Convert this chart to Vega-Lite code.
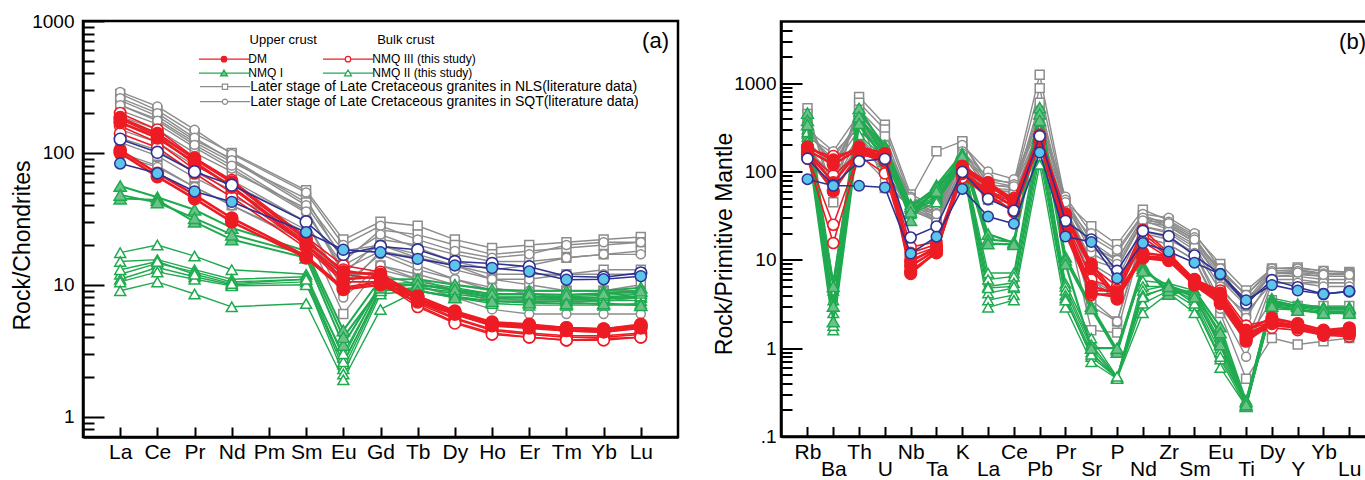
{
"$schema":"https://vega.github.io/schema/vega-lite/v6.json",
"padding":{"left":9,"top":10,"right":0,"bottom":0},
"background":"white",
"bounds":"flush",
"spacing":103,
"center":true,
"config":{
"font":"Liberation Sans",
"view":{"stroke":"black","strokeWidth":2.5},
"axis":{"domainColor":"black","domainWidth":2.5,"tickColor":"black","tickWidth":2,"labelColor":"black","titleColor":"black","grid":false,"titleFontWeight":"normal","labelFont":"Liberation Sans","titleFont":"Liberation Sans"},
"legend":{"labelFont":"Liberation Sans","titleFont":"Liberation Sans","labelColor":"black","titleColor":"black"},
"title":{"font":"Liberation Sans","fontWeight":"normal","color":"black"}
},
"datasets":{
"a":[
{"s":"N1","e":"La","v":280},{"s":"N1","e":"Ce","v":210},{"s":"N1","e":"Pr","v":140},{"s":"N1","e":"Nd","v":100},{"s":"N1","e":"Sm","v":52},{"s":"N1","e":"Eu","v":22},{"s":"N1","e":"Gd","v":30},{"s":"N1","e":"Tb","v":28},{"s":"N1","e":"Dy","v":22},{"s":"N1","e":"Ho","v":19},{"s":"N1","e":"Er","v":20},{"s":"N1","e":"Tm","v":21},{"s":"N1","e":"Yb","v":22},{"s":"N1","e":"Lu","v":23},
{"s":"N2","e":"La","v":230},{"s":"N2","e":"Ce","v":180},{"s":"N2","e":"Pr","v":120},{"s":"N2","e":"Nd","v":85},{"s":"N2","e":"Sm","v":45},{"s":"N2","e":"Eu","v":15},{"s":"N2","e":"Gd","v":26},{"s":"N2","e":"Tb","v":24},{"s":"N2","e":"Dy","v":20},{"s":"N2","e":"Ho","v":17},{"s":"N2","e":"Er","v":18},{"s":"N2","e":"Tm","v":19},{"s":"N2","e":"Yb","v":20},{"s":"N2","e":"Lu","v":21},
{"s":"N3","e":"La","v":190},{"s":"N3","e":"Ce","v":150},{"s":"N3","e":"Pr","v":100},{"s":"N3","e":"Nd","v":72},{"s":"N3","e":"Sm","v":38},{"s":"N3","e":"Eu","v":12},{"s":"N3","e":"Gd","v":22},{"s":"N3","e":"Tb","v":20},{"s":"N3","e":"Dy","v":17},{"s":"N3","e":"Ho","v":15},{"s":"N3","e":"Er","v":15},{"s":"N3","e":"Tm","v":16},{"s":"N3","e":"Yb","v":17},{"s":"N3","e":"Lu","v":18},
{"s":"N4","e":"La","v":150},{"s":"N4","e":"Ce","v":120},{"s":"N4","e":"Pr","v":80},{"s":"N4","e":"Nd","v":58},{"s":"N4","e":"Sm","v":30},{"s":"N4","e":"Eu","v":9},{"s":"N4","e":"Gd","v":18},{"s":"N4","e":"Tb","v":16},{"s":"N4","e":"Dy","v":14},{"s":"N4","e":"Ho","v":12},{"s":"N4","e":"Er","v":12},{"s":"N4","e":"Tm","v":12},{"s":"N4","e":"Yb","v":13},{"s":"N4","e":"Lu","v":13},
{"s":"N5","e":"La","v":120},{"s":"N5","e":"Ce","v":95},{"s":"N5","e":"Pr","v":65},{"s":"N5","e":"Nd","v":47},{"s":"N5","e":"Sm","v":25},{"s":"N5","e":"Eu","v":6},{"s":"N5","e":"Gd","v":14},{"s":"N5","e":"Tb","v":12},{"s":"N5","e":"Dy","v":10},{"s":"N5","e":"Ho","v":9},{"s":"N5","e":"Er","v":9},{"s":"N5","e":"Tm","v":9},{"s":"N5","e":"Yb","v":9},{"s":"N5","e":"Lu","v":10},
{"s":"N6","e":"La","v":100},{"s":"N6","e":"Ce","v":80},{"s":"N6","e":"Pr","v":55},{"s":"N6","e":"Nd","v":40},{"s":"N6","e":"Sm","v":22},{"s":"N6","e":"Eu","v":11},{"s":"N6","e":"Gd","v":13},{"s":"N6","e":"Tb","v":11},{"s":"N6","e":"Dy","v":9},{"s":"N6","e":"Ho","v":8},{"s":"N6","e":"Er","v":7.5},{"s":"N6","e":"Tm","v":7.5},{"s":"N6","e":"Yb","v":7.5},{"s":"N6","e":"Lu","v":8},
{"s":"N7","e":"La","v":250},{"s":"N7","e":"Ce","v":190},{"s":"N7","e":"Pr","v":125},{"s":"N7","e":"Nd","v":90},{"s":"N7","e":"Sm","v":42},{"s":"N7","e":"Eu","v":18},{"s":"N7","e":"Gd","v":20},{"s":"N7","e":"Tb","v":17},{"s":"N7","e":"Dy","v":14},{"s":"N7","e":"Ho","v":11},{"s":"N7","e":"Er","v":10},{"s":"N7","e":"Tm","v":9},{"s":"N7","e":"Yb","v":9},{"s":"N7","e":"Lu","v":9},
{"s":"Q1","e":"La","v":290},{"s":"Q1","e":"Ce","v":225},{"s":"Q1","e":"Pr","v":150},{"s":"Q1","e":"Nd","v":98},{"s":"Q1","e":"Sm","v":50},{"s":"Q1","e":"Eu","v":20},{"s":"Q1","e":"Gd","v":28},{"s":"Q1","e":"Tb","v":22},{"s":"Q1","e":"Dy","v":18},{"s":"Q1","e":"Ho","v":16},{"s":"Q1","e":"Er","v":17},{"s":"Q1","e":"Tm","v":20},{"s":"Q1","e":"Yb","v":21},{"s":"Q1","e":"Lu","v":21},
{"s":"Q2","e":"La","v":260},{"s":"Q2","e":"Ce","v":200},{"s":"Q2","e":"Pr","v":130},{"s":"Q2","e":"Nd","v":88},{"s":"Q2","e":"Sm","v":40},{"s":"Q2","e":"Eu","v":16},{"s":"Q2","e":"Gd","v":24},{"s":"Q2","e":"Tb","v":19},{"s":"Q2","e":"Dy","v":15},{"s":"Q2","e":"Ho","v":13},{"s":"Q2","e":"Er","v":14},{"s":"Q2","e":"Tm","v":16},{"s":"Q2","e":"Yb","v":17},{"s":"Q2","e":"Lu","v":17},
{"s":"Q3","e":"La","v":210},{"s":"Q3","e":"Ce","v":165},{"s":"Q3","e":"Pr","v":110},{"s":"Q3","e":"Nd","v":76},{"s":"Q3","e":"Sm","v":35},{"s":"Q3","e":"Eu","v":14},{"s":"Q3","e":"Gd","v":20},{"s":"Q3","e":"Tb","v":16},{"s":"Q3","e":"Dy","v":13},{"s":"Q3","e":"Ho","v":11},{"s":"Q3","e":"Er","v":11},{"s":"Q3","e":"Tm","v":12},{"s":"Q3","e":"Yb","v":12},{"s":"Q3","e":"Lu","v":12},
{"s":"Q4","e":"La","v":170},{"s":"Q4","e":"Ce","v":135},{"s":"Q4","e":"Pr","v":90},{"s":"Q4","e":"Nd","v":62},{"s":"Q4","e":"Sm","v":30},{"s":"Q4","e":"Eu","v":10},{"s":"Q4","e":"Gd","v":17},{"s":"Q4","e":"Tb","v":13},{"s":"Q4","e":"Dy","v":11},{"s":"Q4","e":"Ho","v":9},{"s":"Q4","e":"Er","v":9},{"s":"Q4","e":"Tm","v":9},{"s":"Q4","e":"Yb","v":9},{"s":"Q4","e":"Lu","v":9},
{"s":"Q5","e":"La","v":130},{"s":"Q5","e":"Ce","v":105},{"s":"Q5","e":"Pr","v":72},{"s":"Q5","e":"Nd","v":52},{"s":"Q5","e":"Sm","v":26},{"s":"Q5","e":"Eu","v":8},{"s":"Q5","e":"Gd","v":14},{"s":"Q5","e":"Tb","v":11},{"s":"Q5","e":"Dy","v":9},{"s":"Q5","e":"Ho","v":7.5},{"s":"Q5","e":"Er","v":7.5},{"s":"Q5","e":"Tm","v":7.5},{"s":"Q5","e":"Yb","v":7},{"s":"Q5","e":"Lu","v":7},
{"s":"Q6","e":"La","v":95},{"s":"Q6","e":"Ce","v":78},{"s":"Q6","e":"Pr","v":55},{"s":"Q6","e":"Nd","v":40},{"s":"Q6","e":"Sm","v":21},{"s":"Q6","e":"Eu","v":12},{"s":"Q6","e":"Gd","v":12},{"s":"Q6","e":"Tb","v":10},{"s":"Q6","e":"Dy","v":8},{"s":"Q6","e":"Ho","v":6.5},{"s":"Q6","e":"Er","v":6},{"s":"Q6","e":"Tm","v":6},{"s":"Q6","e":"Yb","v":6},{"s":"Q6","e":"Lu","v":6},
{"s":"Q7","e":"La","v":230},{"s":"Q7","e":"Ce","v":175},{"s":"Q7","e":"Pr","v":115},{"s":"Q7","e":"Nd","v":80},{"s":"Q7","e":"Sm","v":36},{"s":"Q7","e":"Eu","v":13},{"s":"Q7","e":"Gd","v":18},{"s":"Q7","e":"Tb","v":14},{"s":"Q7","e":"Dy","v":11},{"s":"Q7","e":"Ho","v":9.5},{"s":"Q7","e":"Er","v":8.5},{"s":"Q7","e":"Tm","v":8},{"s":"Q7","e":"Yb","v":8},{"s":"Q7","e":"Lu","v":8},
{"s":"G1","e":"La","v":17.5},{"s":"G1","e":"Ce","v":20},{"s":"G1","e":"Pr","v":16.5},{"s":"G1","e":"Nd","v":13},{"s":"G1","e":"Sm","v":12},{"s":"G1","e":"Eu","v":2.8},{"s":"G1","e":"Gd","v":10},{"s":"G1","e":"Tb","v":10.5},{"s":"G1","e":"Dy","v":9.5},{"s":"G1","e":"Ho","v":8.5},{"s":"G1","e":"Er","v":8.5},{"s":"G1","e":"Tm","v":8.3},{"s":"G1","e":"Yb","v":8.5},{"s":"G1","e":"Lu","v":8.8},
{"s":"G2","e":"La","v":15},{"s":"G2","e":"Ce","v":15.5},{"s":"G2","e":"Pr","v":13},{"s":"G2","e":"Nd","v":11},{"s":"G2","e":"Sm","v":11.5},{"s":"G2","e":"Eu","v":2.5},{"s":"G2","e":"Gd","v":9.5},{"s":"G2","e":"Tb","v":10},{"s":"G2","e":"Dy","v":9},{"s":"G2","e":"Ho","v":8},{"s":"G2","e":"Er","v":8},{"s":"G2","e":"Tm","v":8},{"s":"G2","e":"Yb","v":8},{"s":"G2","e":"Lu","v":8.5},
{"s":"G3","e":"La","v":12},{"s":"G3","e":"Ce","v":14.5},{"s":"G3","e":"Pr","v":12.5},{"s":"G3","e":"Nd","v":10.5},{"s":"G3","e":"Sm","v":11},{"s":"G3","e":"Eu","v":2.3},{"s":"G3","e":"Gd","v":9},{"s":"G3","e":"Tb","v":9.5},{"s":"G3","e":"Dy","v":8.5},{"s":"G3","e":"Ho","v":7.8},{"s":"G3","e":"Er","v":7.8},{"s":"G3","e":"Tm","v":7.7},{"s":"G3","e":"Yb","v":7.8},{"s":"G3","e":"Lu","v":8},
{"s":"G4","e":"La","v":11},{"s":"G4","e":"Ce","v":13.5},{"s":"G4","e":"Pr","v":11.5},{"s":"G4","e":"Nd","v":10},{"s":"G4","e":"Sm","v":10.5},{"s":"G4","e":"Eu","v":2.1},{"s":"G4","e":"Gd","v":8.5},{"s":"G4","e":"Tb","v":9},{"s":"G4","e":"Dy","v":8.2},{"s":"G4","e":"Ho","v":7.5},{"s":"G4","e":"Er","v":7.5},{"s":"G4","e":"Tm","v":7.5},{"s":"G4","e":"Yb","v":7.6},{"s":"G4","e":"Lu","v":7.6},
{"s":"G5","e":"La","v":10.5},{"s":"G5","e":"Ce","v":12.5},{"s":"G5","e":"Pr","v":11},{"s":"G5","e":"Nd","v":9.8},{"s":"G5","e":"Sm","v":10},{"s":"G5","e":"Eu","v":2.6},{"s":"G5","e":"Gd","v":9},{"s":"G5","e":"Tb","v":9.5},{"s":"G5","e":"Dy","v":8.8},{"s":"G5","e":"Ho","v":8},{"s":"G5","e":"Er","v":8},{"s":"G5","e":"Tm","v":7.8},{"s":"G5","e":"Yb","v":8},{"s":"G5","e":"Lu","v":8.2},
{"s":"G6","e":"La","v":9},{"s":"G6","e":"Ce","v":10.5},{"s":"G6","e":"Pr","v":8.5},{"s":"G6","e":"Nd","v":6.8},{"s":"G6","e":"Sm","v":7.2},{"s":"G6","e":"Eu","v":1.9},{"s":"G6","e":"Gd","v":6.5},{"s":"G6","e":"Tb","v":9},{"s":"G6","e":"Dy","v":8},{"s":"G6","e":"Ho","v":7.2},{"s":"G6","e":"Er","v":7},{"s":"G6","e":"Tm","v":7},{"s":"G6","e":"Yb","v":7},{"s":"G6","e":"Lu","v":7.2},
{"s":"G7","e":"La","v":13},{"s":"G7","e":"Ce","v":15},{"s":"G7","e":"Pr","v":12},{"s":"G7","e":"Nd","v":10.2},{"s":"G7","e":"Sm","v":11},{"s":"G7","e":"Eu","v":3},{"s":"G7","e":"Gd","v":9.8},{"s":"G7","e":"Tb","v":10.2},{"s":"G7","e":"Dy","v":9.2},{"s":"G7","e":"Ho","v":8.2},{"s":"G7","e":"Er","v":8.2},{"s":"G7","e":"Tm","v":8.1},{"s":"G7","e":"Yb","v":8.3},{"s":"G7","e":"Lu","v":8.6},
{"s":"F1","e":"La","v":56},{"s":"F1","e":"Ce","v":46},{"s":"F1","e":"Pr","v":37},{"s":"F1","e":"Nd","v":27},{"s":"F1","e":"Sm","v":18},{"s":"F1","e":"Eu","v":4.5},{"s":"F1","e":"Gd","v":11},{"s":"F1","e":"Tb","v":11},{"s":"F1","e":"Dy","v":10},{"s":"F1","e":"Ho","v":9.2},{"s":"F1","e":"Er","v":9},{"s":"F1","e":"Tm","v":9},{"s":"F1","e":"Yb","v":9},{"s":"F1","e":"Lu","v":9.5},
{"s":"F2","e":"La","v":45},{"s":"F2","e":"Ce","v":44},{"s":"F2","e":"Pr","v":30},{"s":"F2","e":"Nd","v":22},{"s":"F2","e":"Sm","v":16},{"s":"F2","e":"Eu","v":3.5},{"s":"F2","e":"Gd","v":10},{"s":"F2","e":"Tb","v":10},{"s":"F2","e":"Dy","v":9.2},{"s":"F2","e":"Ho","v":8.5},{"s":"F2","e":"Er","v":8.5},{"s":"F2","e":"Tm","v":8.4},{"s":"F2","e":"Yb","v":8.6},{"s":"F2","e":"Lu","v":9},
{"s":"F3","e":"La","v":48},{"s":"F3","e":"Ce","v":42},{"s":"F3","e":"Pr","v":32},{"s":"F3","e":"Nd","v":24},{"s":"F3","e":"Sm","v":17},{"s":"F3","e":"Eu","v":4},{"s":"F3","e":"Gd","v":9.5},{"s":"F3","e":"Tb","v":9},{"s":"F3","e":"Dy","v":8},{"s":"F3","e":"Ho","v":7.5},{"s":"F3","e":"Er","v":7.3},{"s":"F3","e":"Tm","v":7.2},{"s":"F3","e":"Yb","v":7.2},{"s":"F3","e":"Lu","v":7},
{"s":"R1","e":"La","v":200},{"s":"R1","e":"Ce","v":150},{"s":"R1","e":"Pr","v":92},{"s":"R1","e":"Nd","v":62},{"s":"R1","e":"Sm","v":23},{"s":"R1","e":"Eu","v":14},{"s":"R1","e":"Gd","v":12.5},{"s":"R1","e":"Tb","v":7.5},{"s":"R1","e":"Dy","v":5.6},{"s":"R1","e":"Ho","v":4.6},{"s":"R1","e":"Er","v":4.3},{"s":"R1","e":"Tm","v":4.1},{"s":"R1","e":"Yb","v":4.1},{"s":"R1","e":"Lu","v":4.3},
{"s":"R2","e":"La","v":180},{"s":"R2","e":"Ce","v":135},{"s":"R2","e":"Pr","v":82},{"s":"R2","e":"Nd","v":56},{"s":"R2","e":"Sm","v":21},{"s":"R2","e":"Eu","v":13},{"s":"R2","e":"Gd","v":11.5},{"s":"R2","e":"Tb","v":7},{"s":"R2","e":"Dy","v":5.2},{"s":"R2","e":"Ho","v":4.3},{"s":"R2","e":"Er","v":4},{"s":"R2","e":"Tm","v":3.8},{"s":"R2","e":"Yb","v":3.9},{"s":"R2","e":"Lu","v":4},
{"s":"R3","e":"La","v":160},{"s":"R3","e":"Ce","v":120},{"s":"R3","e":"Pr","v":75},{"s":"R3","e":"Nd","v":50},{"s":"R3","e":"Sm","v":20},{"s":"R3","e":"Eu","v":12},{"s":"R3","e":"Gd","v":11},{"s":"R3","e":"Tb","v":7.2},{"s":"R3","e":"Dy","v":5.5},{"s":"R3","e":"Ho","v":4.5},{"s":"R3","e":"Er","v":4.2},{"s":"R3","e":"Tm","v":4},{"s":"R3","e":"Yb","v":4},{"s":"R3","e":"Lu","v":4.2},
{"s":"R4","e":"La","v":140},{"s":"R4","e":"Ce","v":110},{"s":"R4","e":"Pr","v":70},{"s":"R4","e":"Nd","v":46},{"s":"R4","e":"Sm","v":19},{"s":"R4","e":"Eu","v":10.5},{"s":"R4","e":"Gd","v":10.5},{"s":"R4","e":"Tb","v":6.8},{"s":"R4","e":"Dy","v":5.1},{"s":"R4","e":"Ho","v":4.2},{"s":"R4","e":"Er","v":4},{"s":"R4","e":"Tm","v":3.8},{"s":"R4","e":"Yb","v":3.8},{"s":"R4","e":"Lu","v":4},
{"s":"D1","e":"La","v":105},{"s":"D1","e":"Ce","v":70},{"s":"D1","e":"Pr","v":48},{"s":"D1","e":"Nd","v":32},{"s":"D1","e":"Sm","v":16.5},{"s":"D1","e":"Eu","v":9.5},{"s":"D1","e":"Gd","v":10.5},{"s":"D1","e":"Tb","v":7.8},{"s":"D1","e":"Dy","v":6.2},{"s":"D1","e":"Ho","v":5.1},{"s":"D1","e":"Er","v":4.9},{"s":"D1","e":"Tm","v":4.7},{"s":"D1","e":"Yb","v":4.6},{"s":"D1","e":"Lu","v":4.9},
{"s":"D2","e":"La","v":100},{"s":"D2","e":"Ce","v":66},{"s":"D2","e":"Pr","v":45},{"s":"D2","e":"Nd","v":30},{"s":"D2","e":"Sm","v":16},{"s":"D2","e":"Eu","v":9.2},{"s":"D2","e":"Gd","v":10},{"s":"D2","e":"Tb","v":7.4},{"s":"D2","e":"Dy","v":6},{"s":"D2","e":"Ho","v":4.9},{"s":"D2","e":"Er","v":4.7},{"s":"D2","e":"Tm","v":4.5},{"s":"D2","e":"Yb","v":4.4},{"s":"D2","e":"Lu","v":4.7},
{"s":"D3","e":"La","v":185},{"s":"D3","e":"Ce","v":140},{"s":"D3","e":"Pr","v":90},{"s":"D3","e":"Nd","v":60},{"s":"D3","e":"Sm","v":22},{"s":"D3","e":"Eu","v":12.5},{"s":"D3","e":"Gd","v":12},{"s":"D3","e":"Tb","v":8.2},{"s":"D3","e":"Dy","v":6.3},{"s":"D3","e":"Ho","v":5.2},{"s":"D3","e":"Er","v":5},{"s":"D3","e":"Tm","v":4.7},{"s":"D3","e":"Yb","v":4.6},{"s":"D3","e":"Lu","v":5},
{"s":"D4","e":"La","v":170},{"s":"D4","e":"Ce","v":130},{"s":"D4","e":"Pr","v":85},{"s":"D4","e":"Nd","v":55},{"s":"D4","e":"Sm","v":20},{"s":"D4","e":"Eu","v":11},{"s":"D4","e":"Gd","v":11.5},{"s":"D4","e":"Tb","v":7.8},{"s":"D4","e":"Dy","v":6},{"s":"D4","e":"Ho","v":5},{"s":"D4","e":"Er","v":4.8},{"s":"D4","e":"Tm","v":4.5},{"s":"D4","e":"Yb","v":4.4},{"s":"D4","e":"Lu","v":4.8},
{"s":"B","e":"La","v":127},{"s":"B","e":"Ce","v":101},{"s":"B","e":"Pr","v":72},{"s":"B","e":"Nd","v":57},{"s":"B","e":"Sm","v":30},{"s":"B","e":"Eu","v":17},{"s":"B","e":"Gd","v":19.5},{"s":"B","e":"Tb","v":18.4},{"s":"B","e":"Dy","v":15},{"s":"B","e":"Ho","v":14.5},{"s":"B","e":"Er","v":13.7},{"s":"B","e":"Tm","v":11.6},{"s":"B","e":"Yb","v":11.4},{"s":"B","e":"Lu","v":12.3},
{"s":"U","e":"La","v":83},{"s":"U","e":"Ce","v":70},{"s":"U","e":"Pr","v":51},{"s":"U","e":"Nd","v":42.5},{"s":"U","e":"Sm","v":25},{"s":"U","e":"Eu","v":18.4},{"s":"U","e":"Gd","v":17.6},{"s":"U","e":"Tb","v":15.7},{"s":"U","e":"Dy","v":14},{"s":"U","e":"Ho","v":13.4},{"s":"U","e":"Er","v":12.6},{"s":"U","e":"Tm","v":10.9},{"s":"U","e":"Yb","v":11},{"s":"U","e":"Lu","v":11.6}
],
"b":[
{"s":"N1","e":"Rb","v":520},{"s":"N1","e":"Ba","v":45},{"s":"N1","e":"Th","v":700},{"s":"N1","e":"U","v":340},{"s":"N1","e":"Nb","v":55},{"s":"N1","e":"Ta","v":40},{"s":"N1","e":"K","v":210},{"s":"N1","e":"La","v":80},{"s":"N1","e":"Ce","v":75},{"s":"N1","e":"Pb","v":1250},{"s":"N1","e":"Pr","v":45},{"s":"N1","e":"Sr","v":24},{"s":"N1","e":"P","v":15},{"s":"N1","e":"Nd","v":37},{"s":"N1","e":"Zr","v":28},{"s":"N1","e":"Sm","v":19},{"s":"N1","e":"Eu","v":9},{"s":"N1","e":"Ti","v":4.5},{"s":"N1","e":"Dy","v":8},{"s":"N1","e":"Y","v":8.2},{"s":"N1","e":"Yb","v":7.5},{"s":"N1","e":"Lu","v":7.3},
{"s":"N2","e":"Rb","v":450},{"s":"N2","e":"Ba","v":60},{"s":"N2","e":"Th","v":600},{"s":"N2","e":"U","v":300},{"s":"N2","e":"Nb","v":50},{"s":"N2","e":"Ta","v":170},{"s":"N2","e":"K","v":220},{"s":"N2","e":"La","v":70},{"s":"N2","e":"Ce","v":68},{"s":"N2","e":"Pb","v":880},{"s":"N2","e":"Pr","v":42},{"s":"N2","e":"Sr","v":18},{"s":"N2","e":"P","v":12},{"s":"N2","e":"Nd","v":32},{"s":"N2","e":"Zr","v":25},{"s":"N2","e":"Sm","v":17},{"s":"N2","e":"Eu","v":7.5},{"s":"N2","e":"Ti","v":4},{"s":"N2","e":"Dy","v":7.5},{"s":"N2","e":"Y","v":7.8},{"s":"N2","e":"Yb","v":7},{"s":"N2","e":"Lu","v":7},
{"s":"N3","e":"Rb","v":380},{"s":"N3","e":"Ba","v":90},{"s":"N3","e":"Th","v":500},{"s":"N3","e":"U","v":250},{"s":"N3","e":"Nb","v":45},{"s":"N3","e":"Ta","v":38},{"s":"N3","e":"K","v":160},{"s":"N3","e":"La","v":60},{"s":"N3","e":"Ce","v":60},{"s":"N3","e":"Pb","v":450},{"s":"N3","e":"Pr","v":38},{"s":"N3","e":"Sr","v":10},{"s":"N3","e":"P","v":8},{"s":"N3","e":"Nd","v":28},{"s":"N3","e":"Zr","v":22},{"s":"N3","e":"Sm","v":15},{"s":"N3","e":"Eu","v":6},{"s":"N3","e":"Ti","v":3.5},{"s":"N3","e":"Dy","v":6.5},{"s":"N3","e":"Y","v":6.8},{"s":"N3","e":"Yb","v":6.5},{"s":"N3","e":"Lu","v":6.5},
{"s":"N4","e":"Rb","v":300},{"s":"N4","e":"Ba","v":120},{"s":"N4","e":"Th","v":400},{"s":"N4","e":"U","v":200},{"s":"N4","e":"Nb","v":40},{"s":"N4","e":"Ta","v":33},{"s":"N4","e":"K","v":140},{"s":"N4","e":"La","v":55},{"s":"N4","e":"Ce","v":55},{"s":"N4","e":"Pb","v":300},{"s":"N4","e":"Pr","v":35},{"s":"N4","e":"Sr","v":6},{"s":"N4","e":"P","v":4},{"s":"N4","e":"Nd","v":24},{"s":"N4","e":"Zr","v":20},{"s":"N4","e":"Sm","v":13},{"s":"N4","e":"Eu","v":4.5},{"s":"N4","e":"Ti","v":2.5},{"s":"N4","e":"Dy","v":5.5},{"s":"N4","e":"Y","v":5.5},{"s":"N4","e":"Yb","v":5.5},{"s":"N4","e":"Lu","v":5.5},
{"s":"N5","e":"Rb","v":250},{"s":"N5","e":"Ba","v":160},{"s":"N5","e":"Th","v":320},{"s":"N5","e":"U","v":150},{"s":"N5","e":"Nb","v":38},{"s":"N5","e":"Ta","v":30},{"s":"N5","e":"K","v":130},{"s":"N5","e":"La","v":50},{"s":"N5","e":"Ce","v":50},{"s":"N5","e":"Pb","v":200},{"s":"N5","e":"Pr","v":32},{"s":"N5","e":"Sr","v":3},{"s":"N5","e":"P","v":2},{"s":"N5","e":"Nd","v":20},{"s":"N5","e":"Zr","v":17},{"s":"N5","e":"Sm","v":12},{"s":"N5","e":"Eu","v":3},{"s":"N5","e":"Ti","v":1.2},{"s":"N5","e":"Dy","v":3.5},{"s":"N5","e":"Y","v":3},{"s":"N5","e":"Yb","v":3},{"s":"N5","e":"Lu","v":3},
{"s":"N6","e":"Rb","v":200},{"s":"N6","e":"Ba","v":70},{"s":"N6","e":"Th","v":250},{"s":"N6","e":"U","v":100},{"s":"N6","e":"Nb","v":36},{"s":"N6","e":"Ta","v":28},{"s":"N6","e":"K","v":110},{"s":"N6","e":"La","v":48},{"s":"N6","e":"Ce","v":45},{"s":"N6","e":"Pb","v":120},{"s":"N6","e":"Pr","v":30},{"s":"N6","e":"Sr","v":1.6},{"s":"N6","e":"P","v":1.5},{"s":"N6","e":"Nd","v":18},{"s":"N6","e":"Zr","v":15},{"s":"N6","e":"Sm","v":10},{"s":"N6","e":"Eu","v":2.5},{"s":"N6","e":"Ti","v":0.45},{"s":"N6","e":"Dy","v":1.3},{"s":"N6","e":"Y","v":1.1},{"s":"N6","e":"Yb","v":1.2},{"s":"N6","e":"Lu","v":1.3},
{"s":"N7","e":"Rb","v":350},{"s":"N7","e":"Ba","v":100},{"s":"N7","e":"Th","v":450},{"s":"N7","e":"U","v":65},{"s":"N7","e":"Nb","v":42},{"s":"N7","e":"Ta","v":35},{"s":"N7","e":"K","v":180},{"s":"N7","e":"La","v":65},{"s":"N7","e":"Ce","v":62},{"s":"N7","e":"Pb","v":600},{"s":"N7","e":"Pr","v":40},{"s":"N7","e":"Sr","v":14},{"s":"N7","e":"P","v":10},{"s":"N7","e":"Nd","v":30},{"s":"N7","e":"Zr","v":24},{"s":"N7","e":"Sm","v":16},{"s":"N7","e":"Eu","v":8},{"s":"N7","e":"Ti","v":3},{"s":"N7","e":"Dy","v":7},{"s":"N7","e":"Y","v":7.5},{"s":"N7","e":"Yb","v":7},{"s":"N7","e":"Lu","v":6.8},
{"s":"Q1","e":"Rb","v":300},{"s":"Q1","e":"Ba","v":170},{"s":"Q1","e":"Th","v":450},{"s":"Q1","e":"U","v":200},{"s":"Q1","e":"Nb","v":52},{"s":"Q1","e":"Ta","v":36},{"s":"Q1","e":"K","v":200},{"s":"Q1","e":"La","v":100},{"s":"Q1","e":"Ce","v":82},{"s":"Q1","e":"Pb","v":400},{"s":"Q1","e":"Pr","v":52},{"s":"Q1","e":"Sr","v":20},{"s":"Q1","e":"P","v":13},{"s":"Q1","e":"Nd","v":33},{"s":"Q1","e":"Zr","v":30},{"s":"Q1","e":"Sm","v":20},{"s":"Q1","e":"Eu","v":8},{"s":"Q1","e":"Ti","v":4},{"s":"Q1","e":"Dy","v":8},{"s":"Q1","e":"Y","v":8},{"s":"Q1","e":"Yb","v":7.5},{"s":"Q1","e":"Lu","v":7.2},
{"s":"Q2","e":"Rb","v":260},{"s":"Q2","e":"Ba","v":140},{"s":"Q2","e":"Th","v":380},{"s":"Q2","e":"U","v":180},{"s":"Q2","e":"Nb","v":48},{"s":"Q2","e":"Ta","v":34},{"s":"Q2","e":"K","v":170},{"s":"Q2","e":"La","v":85},{"s":"Q2","e":"Ce","v":72},{"s":"Q2","e":"Pb","v":350},{"s":"Q2","e":"Pr","v":48},{"s":"Q2","e":"Sr","v":16},{"s":"Q2","e":"P","v":10},{"s":"Q2","e":"Nd","v":30},{"s":"Q2","e":"Zr","v":27},{"s":"Q2","e":"Sm","v":18},{"s":"Q2","e":"Eu","v":7},{"s":"Q2","e":"Ti","v":3.5},{"s":"Q2","e":"Dy","v":7.5},{"s":"Q2","e":"Y","v":7.5},{"s":"Q2","e":"Yb","v":7},{"s":"Q2","e":"Lu","v":7},
{"s":"Q3","e":"Rb","v":220},{"s":"Q3","e":"Ba","v":110},{"s":"Q3","e":"Th","v":300},{"s":"Q3","e":"U","v":150},{"s":"Q3","e":"Nb","v":45},{"s":"Q3","e":"Ta","v":32},{"s":"Q3","e":"K","v":150},{"s":"Q3","e":"La","v":72},{"s":"Q3","e":"Ce","v":65},{"s":"Q3","e":"Pb","v":300},{"s":"Q3","e":"Pr","v":43},{"s":"Q3","e":"Sr","v":12},{"s":"Q3","e":"P","v":8},{"s":"Q3","e":"Nd","v":27},{"s":"Q3","e":"Zr","v":24},{"s":"Q3","e":"Sm","v":16},{"s":"Q3","e":"Eu","v":6},{"s":"Q3","e":"Ti","v":3},{"s":"Q3","e":"Dy","v":7},{"s":"Q3","e":"Y","v":7},{"s":"Q3","e":"Yb","v":6.5},{"s":"Q3","e":"Lu","v":6.5},
{"s":"Q4","e":"Rb","v":180},{"s":"Q4","e":"Ba","v":90},{"s":"Q4","e":"Th","v":250},{"s":"Q4","e":"U","v":120},{"s":"Q4","e":"Nb","v":42},{"s":"Q4","e":"Ta","v":30},{"s":"Q4","e":"K","v":130},{"s":"Q4","e":"La","v":62},{"s":"Q4","e":"Ce","v":58},{"s":"Q4","e":"Pb","v":250},{"s":"Q4","e":"Pr","v":38},{"s":"Q4","e":"Sr","v":9},{"s":"Q4","e":"P","v":6},{"s":"Q4","e":"Nd","v":24},{"s":"Q4","e":"Zr","v":21},{"s":"Q4","e":"Sm","v":14},{"s":"Q4","e":"Eu","v":5},{"s":"Q4","e":"Ti","v":2.2},{"s":"Q4","e":"Dy","v":6.5},{"s":"Q4","e":"Y","v":6.5},{"s":"Q4","e":"Yb","v":6},{"s":"Q4","e":"Lu","v":6},
{"s":"Q5","e":"Rb","v":160},{"s":"Q5","e":"Ba","v":75},{"s":"Q5","e":"Th","v":200},{"s":"Q5","e":"U","v":100},{"s":"Q5","e":"Nb","v":40},{"s":"Q5","e":"Ta","v":28},{"s":"Q5","e":"K","v":115},{"s":"Q5","e":"La","v":55},{"s":"Q5","e":"Ce","v":52},{"s":"Q5","e":"Pb","v":200},{"s":"Q5","e":"Pr","v":35},{"s":"Q5","e":"Sr","v":6},{"s":"Q5","e":"P","v":3.5},{"s":"Q5","e":"Nd","v":21},{"s":"Q5","e":"Zr","v":18},{"s":"Q5","e":"Sm","v":12},{"s":"Q5","e":"Eu","v":3.5},{"s":"Q5","e":"Ti","v":1.2},{"s":"Q5","e":"Dy","v":6},{"s":"Q5","e":"Y","v":6},{"s":"Q5","e":"Yb","v":5.5},{"s":"Q5","e":"Lu","v":5.5},
{"s":"Q6","e":"Rb","v":140},{"s":"Q6","e":"Ba","v":60},{"s":"Q6","e":"Th","v":160},{"s":"Q6","e":"U","v":80},{"s":"Q6","e":"Nb","v":38},{"s":"Q6","e":"Ta","v":27},{"s":"Q6","e":"K","v":100},{"s":"Q6","e":"La","v":47},{"s":"Q6","e":"Ce","v":45},{"s":"Q6","e":"Pb","v":160},{"s":"Q6","e":"Pr","v":31},{"s":"Q6","e":"Sr","v":3.5},{"s":"Q6","e":"P","v":2},{"s":"Q6","e":"Nd","v":18},{"s":"Q6","e":"Zr","v":15},{"s":"Q6","e":"Sm","v":10},{"s":"Q6","e":"Eu","v":2.8},{"s":"Q6","e":"Ti","v":0.8},{"s":"Q6","e":"Dy","v":5.5},{"s":"Q6","e":"Y","v":5.5},{"s":"Q6","e":"Yb","v":5},{"s":"Q6","e":"Lu","v":5},
{"s":"Q7","e":"Rb","v":200},{"s":"Q7","e":"Ba","v":120},{"s":"Q7","e":"Th","v":350},{"s":"Q7","e":"U","v":170},{"s":"Q7","e":"Nb","v":50},{"s":"Q7","e":"Ta","v":33},{"s":"Q7","e":"K","v":160},{"s":"Q7","e":"La","v":78},{"s":"Q7","e":"Ce","v":68},{"s":"Q7","e":"Pb","v":500},{"s":"Q7","e":"Pr","v":45},{"s":"Q7","e":"Sr","v":14},{"s":"Q7","e":"P","v":9},{"s":"Q7","e":"Nd","v":28},{"s":"Q7","e":"Zr","v":26},{"s":"Q7","e":"Sm","v":17},{"s":"Q7","e":"Eu","v":6.5},{"s":"Q7","e":"Ti","v":3.2},{"s":"Q7","e":"Dy","v":7.2},{"s":"Q7","e":"Y","v":7.2},{"s":"Q7","e":"Yb","v":6.8},{"s":"Q7","e":"Lu","v":6.8},
{"s":"G1","e":"Rb","v":300},{"s":"G1","e":"Ba","v":5.8},{"s":"G1","e":"Th","v":480},{"s":"G1","e":"U","v":200},{"s":"G1","e":"Nb","v":43},{"s":"G1","e":"Ta","v":60},{"s":"G1","e":"K","v":150},{"s":"G1","e":"La","v":7.1},{"s":"G1","e":"Ce","v":7.1},{"s":"G1","e":"Pb","v":300},{"s":"G1","e":"Pr","v":5.4},{"s":"G1","e":"Sr","v":1.3},{"s":"G1","e":"P","v":0.47},{"s":"G1","e":"Nd","v":5.8},{"s":"G1","e":"Zr","v":5.4},{"s":"G1","e":"Sm","v":4.5},{"s":"G1","e":"Eu","v":1.35},{"s":"G1","e":"Ti","v":0.26},{"s":"G1","e":"Dy","v":3.7},{"s":"G1","e":"Y","v":3.2},{"s":"G1","e":"Yb","v":2.9},{"s":"G1","e":"Lu","v":2.9},
{"s":"G2","e":"Rb","v":270},{"s":"G2","e":"Ba","v":4.5},{"s":"G2","e":"Th","v":420},{"s":"G2","e":"U","v":180},{"s":"G2","e":"Nb","v":40},{"s":"G2","e":"Ta","v":55},{"s":"G2","e":"K","v":140},{"s":"G2","e":"La","v":6},{"s":"G2","e":"Ce","v":6.5},{"s":"G2","e":"Pb","v":250},{"s":"G2","e":"Pr","v":5},{"s":"G2","e":"Sr","v":1.1},{"s":"G2","e":"P","v":0.47},{"s":"G2","e":"Nd","v":5},{"s":"G2","e":"Zr","v":5},{"s":"G2","e":"Sm","v":4.2},{"s":"G2","e":"Eu","v":1.2},{"s":"G2","e":"Ti","v":0.25},{"s":"G2","e":"Dy","v":3.5},{"s":"G2","e":"Y","v":3},{"s":"G2","e":"Yb","v":2.8},{"s":"G2","e":"Lu","v":2.8},
{"s":"G3","e":"Rb","v":250},{"s":"G3","e":"Ba","v":3.5},{"s":"G3","e":"Th","v":380},{"s":"G3","e":"U","v":170},{"s":"G3","e":"Nb","v":38},{"s":"G3","e":"Ta","v":52},{"s":"G3","e":"K","v":135},{"s":"G3","e":"La","v":5},{"s":"G3","e":"Ce","v":5.5},{"s":"G3","e":"Pb","v":200},{"s":"G3","e":"Pr","v":4.5},{"s":"G3","e":"Sr","v":1},{"s":"G3","e":"P","v":0.46},{"s":"G3","e":"Nd","v":4.5},{"s":"G3","e":"Zr","v":5.2},{"s":"G3","e":"Sm","v":4},{"s":"G3","e":"Eu","v":1},{"s":"G3","e":"Ti","v":0.24},{"s":"G3","e":"Dy","v":3.3},{"s":"G3","e":"Y","v":3},{"s":"G3","e":"Yb","v":2.7},{"s":"G3","e":"Lu","v":2.7},
{"s":"G4","e":"Rb","v":230},{"s":"G4","e":"Ba","v":2.5},{"s":"G4","e":"Th","v":330},{"s":"G4","e":"U","v":160},{"s":"G4","e":"Nb","v":36},{"s":"G4","e":"Ta","v":50},{"s":"G4","e":"K","v":130},{"s":"G4","e":"La","v":4.2},{"s":"G4","e":"Ce","v":4.8},{"s":"G4","e":"Pb","v":180},{"s":"G4","e":"Pr","v":4},{"s":"G4","e":"Sr","v":0.9},{"s":"G4","e":"P","v":0.45},{"s":"G4","e":"Nd","v":4},{"s":"G4","e":"Zr","v":4.8},{"s":"G4","e":"Sm","v":3.5},{"s":"G4","e":"Eu","v":0.9},{"s":"G4","e":"Ti","v":0.23},{"s":"G4","e":"Dy","v":3.1},{"s":"G4","e":"Y","v":2.9},{"s":"G4","e":"Yb","v":2.6},{"s":"G4","e":"Lu","v":2.6},
{"s":"G5","e":"Rb","v":220},{"s":"G5","e":"Ba","v":2},{"s":"G5","e":"Th","v":300},{"s":"G5","e":"U","v":150},{"s":"G5","e":"Nb","v":35},{"s":"G5","e":"Ta","v":48},{"s":"G5","e":"K","v":125},{"s":"G5","e":"La","v":3.5},{"s":"G5","e":"Ce","v":4},{"s":"G5","e":"Pb","v":150},{"s":"G5","e":"Pr","v":3.7},{"s":"G5","e":"Sr","v":0.8},{"s":"G5","e":"P","v":0.46},{"s":"G5","e":"Nd","v":3.2},{"s":"G5","e":"Zr","v":4.5},{"s":"G5","e":"Sm","v":3},{"s":"G5","e":"Eu","v":0.75},{"s":"G5","e":"Ti","v":0.22},{"s":"G5","e":"Dy","v":3},{"s":"G5","e":"Y","v":2.8},{"s":"G5","e":"Yb","v":2.5},{"s":"G5","e":"Lu","v":2.6},
{"s":"G6","e":"Rb","v":200},{"s":"G6","e":"Ba","v":1.6},{"s":"G6","e":"Th","v":260},{"s":"G6","e":"U","v":140},{"s":"G6","e":"Nb","v":33},{"s":"G6","e":"Ta","v":45},{"s":"G6","e":"K","v":120},{"s":"G6","e":"La","v":2.9},{"s":"G6","e":"Ce","v":3.5},{"s":"G6","e":"Pb","v":120},{"s":"G6","e":"Pr","v":2.9},{"s":"G6","e":"Sr","v":0.7},{"s":"G6","e":"P","v":0.45},{"s":"G6","e":"Nd","v":2.5},{"s":"G6","e":"Zr","v":4.2},{"s":"G6","e":"Sm","v":2.5},{"s":"G6","e":"Eu","v":0.6},{"s":"G6","e":"Ti","v":0.22},{"s":"G6","e":"Dy","v":2.8},{"s":"G6","e":"Y","v":2.7},{"s":"G6","e":"Yb","v":2.5},{"s":"G6","e":"Lu","v":2.5},
{"s":"G7","e":"Rb","v":280},{"s":"G7","e":"Ba","v":1.8},{"s":"G7","e":"Th","v":400},{"s":"G7","e":"U","v":190},{"s":"G7","e":"Nb","v":42},{"s":"G7","e":"Ta","v":58},{"s":"G7","e":"K","v":155},{"s":"G7","e":"La","v":4.8},{"s":"G7","e":"Ce","v":5},{"s":"G7","e":"Pb","v":220},{"s":"G7","e":"Pr","v":3.5},{"s":"G7","e":"Sr","v":0.85},{"s":"G7","e":"P","v":0.48},{"s":"G7","e":"Nd","v":3.8},{"s":"G7","e":"Zr","v":5},{"s":"G7","e":"Sm","v":3.2},{"s":"G7","e":"Eu","v":0.8},{"s":"G7","e":"Ti","v":0.24},{"s":"G7","e":"Dy","v":3.4},{"s":"G7","e":"Y","v":3},{"s":"G7","e":"Yb","v":2.8},{"s":"G7","e":"Lu","v":2.8},
{"s":"F1","e":"Rb","v":460},{"s":"F1","e":"Ba","v":5},{"s":"F1","e":"Th","v":520},{"s":"F1","e":"U","v":180},{"s":"F1","e":"Nb","v":28},{"s":"F1","e":"Ta","v":70},{"s":"F1","e":"K","v":160},{"s":"F1","e":"La","v":19.6},{"s":"F1","e":"Ce","v":15.6},{"s":"F1","e":"Pb","v":530},{"s":"F1","e":"Pr","v":10.8},{"s":"F1","e":"Sr","v":3},{"s":"F1","e":"P","v":0.96},{"s":"F1","e":"Nd","v":8.6},{"s":"F1","e":"Zr","v":4.1},{"s":"F1","e":"Sm","v":4.5},{"s":"F1","e":"Eu","v":1.75},{"s":"F1","e":"Ti","v":0.25},{"s":"F1","e":"Dy","v":3.3},{"s":"F1","e":"Y","v":3},{"s":"F1","e":"Yb","v":2.9},{"s":"F1","e":"Lu","v":2.9},
{"s":"F2","e":"Rb","v":380},{"s":"F2","e":"Ba","v":3},{"s":"F2","e":"Th","v":420},{"s":"F2","e":"U","v":150},{"s":"F2","e":"Nb","v":40},{"s":"F2","e":"Ta","v":66},{"s":"F2","e":"K","v":140},{"s":"F2","e":"La","v":17},{"s":"F2","e":"Ce","v":16},{"s":"F2","e":"Pb","v":450},{"s":"F2","e":"Pr","v":10},{"s":"F2","e":"Sr","v":2.8},{"s":"F2","e":"P","v":0.9},{"s":"F2","e":"Nd","v":8},{"s":"F2","e":"Zr","v":4.5},{"s":"F2","e":"Sm","v":4.2},{"s":"F2","e":"Eu","v":1.5},{"s":"F2","e":"Ti","v":0.22},{"s":"F2","e":"Dy","v":3.2},{"s":"F2","e":"Y","v":3},{"s":"F2","e":"Yb","v":2.8},{"s":"F2","e":"Lu","v":2.8},
{"s":"F3","e":"Rb","v":340},{"s":"F3","e":"Ba","v":2},{"s":"F3","e":"Th","v":350},{"s":"F3","e":"U","v":130},{"s":"F3","e":"Nb","v":35},{"s":"F3","e":"Ta","v":60},{"s":"F3","e":"K","v":150},{"s":"F3","e":"La","v":15.3},{"s":"F3","e":"Ce","v":15},{"s":"F3","e":"Pb","v":380},{"s":"F3","e":"Pr","v":9},{"s":"F3","e":"Sr","v":1},{"s":"F3","e":"P","v":1},{"s":"F3","e":"Nd","v":7.5},{"s":"F3","e":"Zr","v":5},{"s":"F3","e":"Sm","v":3.8},{"s":"F3","e":"Eu","v":1.1},{"s":"F3","e":"Ti","v":0.23},{"s":"F3","e":"Dy","v":3},{"s":"F3","e":"Y","v":2.7},{"s":"F3","e":"Yb","v":2.5},{"s":"F3","e":"Lu","v":2.5},
{"s":"R1","e":"Rb","v":180},{"s":"R1","e":"Ba","v":150},{"s":"R1","e":"Th","v":175},{"s":"R1","e":"U","v":150},{"s":"R1","e":"Nb","v":14},{"s":"R1","e":"Ta","v":16},{"s":"R1","e":"K","v":105},{"s":"R1","e":"La","v":68},{"s":"R1","e":"Ce","v":50},{"s":"R1","e":"Pb","v":240},{"s":"R1","e":"Pr","v":32},{"s":"R1","e":"Sr","v":8.5},{"s":"R1","e":"P","v":5},{"s":"R1","e":"Nd","v":22},{"s":"R1","e":"Zr","v":12},{"s":"R1","e":"Sm","v":6},{"s":"R1","e":"Eu","v":4.5},{"s":"R1","e":"Ti","v":1.8},{"s":"R1","e":"Dy","v":2.1},{"s":"R1","e":"Y","v":1.9},{"s":"R1","e":"Yb","v":1.6},{"s":"R1","e":"Lu","v":1.6},
{"s":"R2","e":"Rb","v":165},{"s":"R2","e":"Ba","v":90},{"s":"R2","e":"Th","v":165},{"s":"R2","e":"U","v":140},{"s":"R2","e":"Nb","v":12},{"s":"R2","e":"Ta","v":15},{"s":"R2","e":"K","v":95},{"s":"R2","e":"La","v":62},{"s":"R2","e":"Ce","v":44},{"s":"R2","e":"Pb","v":230},{"s":"R2","e":"Pr","v":28},{"s":"R2","e":"Sr","v":6},{"s":"R2","e":"P","v":4.6},{"s":"R2","e":"Nd","v":20},{"s":"R2","e":"Zr","v":11.5},{"s":"R2","e":"Sm","v":5.8},{"s":"R2","e":"Eu","v":4},{"s":"R2","e":"Ti","v":1.6},{"s":"R2","e":"Dy","v":2},{"s":"R2","e":"Y","v":1.8},{"s":"R2","e":"Yb","v":1.5},{"s":"R2","e":"Lu","v":1.5},
{"s":"R3","e":"Rb","v":150},{"s":"R3","e":"Ba","v":25},{"s":"R3","e":"Th","v":160},{"s":"R3","e":"U","v":130},{"s":"R3","e":"Nb","v":11},{"s":"R3","e":"Ta","v":14},{"s":"R3","e":"K","v":90},{"s":"R3","e":"La","v":58},{"s":"R3","e":"Ce","v":40},{"s":"R3","e":"Pb","v":225},{"s":"R3","e":"Pr","v":26},{"s":"R3","e":"Sr","v":4.5},{"s":"R3","e":"P","v":4.4},{"s":"R3","e":"Nd","v":18},{"s":"R3","e":"Zr","v":11},{"s":"R3","e":"Sm","v":5.5},{"s":"R3","e":"Eu","v":3.8},{"s":"R3","e":"Ti","v":1.5},{"s":"R3","e":"Dy","v":1.8},{"s":"R3","e":"Y","v":1.7},{"s":"R3","e":"Yb","v":1.45},{"s":"R3","e":"Lu","v":1.4},
{"s":"R4","e":"Rb","v":140},{"s":"R4","e":"Ba","v":15.5},{"s":"R4","e":"Th","v":150},{"s":"R4","e":"U","v":95},{"s":"R4","e":"Nb","v":10},{"s":"R4","e":"Ta","v":13},{"s":"R4","e":"K","v":85},{"s":"R4","e":"La","v":52},{"s":"R4","e":"Ce","v":36},{"s":"R4","e":"Pb","v":210},{"s":"R4","e":"Pr","v":24},{"s":"R4","e":"Sr","v":4},{"s":"R4","e":"P","v":4.2},{"s":"R4","e":"Nd","v":16},{"s":"R4","e":"Zr","v":10.5},{"s":"R4","e":"Sm","v":5.2},{"s":"R4","e":"Eu","v":3.5},{"s":"R4","e":"Ti","v":1.4},{"s":"R4","e":"Dy","v":1.7},{"s":"R4","e":"Y","v":1.6},{"s":"R4","e":"Yb","v":1.4},{"s":"R4","e":"Lu","v":1.35},
{"s":"D1","e":"Rb","v":190},{"s":"D1","e":"Ba","v":135},{"s":"D1","e":"Th","v":190},{"s":"D1","e":"U","v":160},{"s":"D1","e":"Nb","v":7.5},{"s":"D1","e":"Ta","v":12},{"s":"D1","e":"K","v":115},{"s":"D1","e":"La","v":75},{"s":"D1","e":"Ce","v":48},{"s":"D1","e":"Pb","v":260},{"s":"D1","e":"Pr","v":33},{"s":"D1","e":"Sr","v":9},{"s":"D1","e":"P","v":3.9},{"s":"D1","e":"Nd","v":12},{"s":"D1","e":"Zr","v":11},{"s":"D1","e":"Sm","v":6},{"s":"D1","e":"Eu","v":4.2},{"s":"D1","e":"Ti","v":1.6},{"s":"D1","e":"Dy","v":2.2},{"s":"D1","e":"Y","v":1.9},{"s":"D1","e":"Yb","v":1.6},{"s":"D1","e":"Lu","v":1.7},
{"s":"D2","e":"Rb","v":175},{"s":"D2","e":"Ba","v":120},{"s":"D2","e":"Th","v":180},{"s":"D2","e":"U","v":150},{"s":"D2","e":"Nb","v":7},{"s":"D2","e":"Ta","v":12.5},{"s":"D2","e":"K","v":110},{"s":"D2","e":"La","v":70},{"s":"D2","e":"Ce","v":45},{"s":"D2","e":"Pb","v":250},{"s":"D2","e":"Pr","v":30},{"s":"D2","e":"Sr","v":8},{"s":"D2","e":"P","v":3.6},{"s":"D2","e":"Nd","v":11},{"s":"D2","e":"Zr","v":10.5},{"s":"D2","e":"Sm","v":5.8},{"s":"D2","e":"Eu","v":3.8},{"s":"D2","e":"Ti","v":1.4},{"s":"D2","e":"Dy","v":2},{"s":"D2","e":"Y","v":1.8},{"s":"D2","e":"Yb","v":1.5},{"s":"D2","e":"Lu","v":1.6},
{"s":"D3","e":"Rb","v":165},{"s":"D3","e":"Ba","v":75},{"s":"D3","e":"Th","v":170},{"s":"D3","e":"U","v":145},{"s":"D3","e":"Nb","v":9.5},{"s":"D3","e":"Ta","v":14},{"s":"D3","e":"K","v":100},{"s":"D3","e":"La","v":60},{"s":"D3","e":"Ce","v":40},{"s":"D3","e":"Pb","v":240},{"s":"D3","e":"Pr","v":25},{"s":"D3","e":"Sr","v":5},{"s":"D3","e":"P","v":4.2},{"s":"D3","e":"Nd","v":11},{"s":"D3","e":"Zr","v":10},{"s":"D3","e":"Sm","v":5.5},{"s":"D3","e":"Eu","v":3.5},{"s":"D3","e":"Ti","v":1.3},{"s":"D3","e":"Dy","v":2},{"s":"D3","e":"Y","v":1.7},{"s":"D3","e":"Yb","v":1.5},{"s":"D3","e":"Lu","v":1.5},
{"s":"D4","e":"Rb","v":155},{"s":"D4","e":"Ba","v":60},{"s":"D4","e":"Th","v":160},{"s":"D4","e":"U","v":135},{"s":"D4","e":"Nb","v":8.5},{"s":"D4","e":"Ta","v":13},{"s":"D4","e":"K","v":95},{"s":"D4","e":"La","v":55},{"s":"D4","e":"Ce","v":35},{"s":"D4","e":"Pb","v":220},{"s":"D4","e":"Pr","v":20},{"s":"D4","e":"Sr","v":4.2},{"s":"D4","e":"P","v":3.8},{"s":"D4","e":"Nd","v":10.5},{"s":"D4","e":"Zr","v":9.8},{"s":"D4","e":"Sm","v":5.2},{"s":"D4","e":"Eu","v":3.2},{"s":"D4","e":"Ti","v":1.2},{"s":"D4","e":"Dy","v":1.9},{"s":"D4","e":"Y","v":1.7},{"s":"D4","e":"Yb","v":1.4},{"s":"D4","e":"Lu","v":1.45},
{"s":"B","e":"Rb","v":140},{"s":"B","e":"Ba","v":70},{"s":"B","e":"Th","v":131},{"s":"B","e":"U","v":139},{"s":"B","e":"Nb","v":17.9},{"s":"B","e":"Ta","v":23.9},{"s":"B","e":"K","v":98.7},{"s":"B","e":"La","v":49},{"s":"B","e":"Ce","v":36},{"s":"B","e":"Pb","v":252},{"s":"B","e":"Pr","v":27.6},{"s":"B","e":"Sr","v":17},{"s":"B","e":"P","v":7.5},{"s":"B","e":"Nd","v":21.3},{"s":"B","e":"Zr","v":18.6},{"s":"B","e":"Sm","v":11.2},{"s":"B","e":"Eu","v":6.9},{"s":"B","e":"Ti","v":3.2},{"s":"B","e":"Dy","v":5.9},{"s":"B","e":"Y","v":4.9},{"s":"B","e":"Yb","v":4.1},{"s":"B","e":"Lu","v":4.4},
{"s":"U","e":"Rb","v":82},{"s":"U","e":"Ba","v":69},{"s":"U","e":"Th","v":69},{"s":"U","e":"U","v":66},{"s":"U","e":"Nb","v":11.8},{"s":"U","e":"Ta","v":18.3},{"s":"U","e":"K","v":63.6},{"s":"U","e":"La","v":31},{"s":"U","e":"Ce","v":25.7},{"s":"U","e":"Pb","v":164},{"s":"U","e":"Pr","v":18.4},{"s":"U","e":"Sr","v":15.9},{"s":"U","e":"P","v":6.2},{"s":"U","e":"Nd","v":15.5},{"s":"U","e":"Zr","v":12.4},{"s":"U","e":"Sm","v":9.3},{"s":"U","e":"Eu","v":6.9},{"s":"U","e":"Ti","v":3.5},{"s":"U","e":"Dy","v":5.2},{"s":"U","e":"Y","v":4.5},{"s":"U","e":"Yb","v":4.1},{"s":"U","e":"Lu","v":4.4}
]
},
"hconcat":[
{
"width":595,"height":416,
"data":{"name":"a"},
"title":{"text":"(a)","anchor":"end","frame":"group","fontSize":22,"baseline":"top","offset":0,"dx":-9,"dy":41},
"resolve":{"scale":{"shape":"independent","fill":"independent","stroke":"independent"}},
"layer":[
{"encoding":{
"x":{"field":"e","type":"nominal","scale":{"domain":["La","Ce","Pr","Nd","Pm","Sm","Eu","Gd","Tb","Dy","Ho","Er","Tm","Yb","Lu"],"padding":1},"axis":{"title":null,"labelAngle":0,"labelFontSize":21,"labelPadding":14,"tickSize":-10,"labelOverlap":false}},
"y":{"field":"v","type":"quantitative","scale":{"type":"log","domain":[0.7,1000],"nice":false},"axis":{"title":"Rock/Chondrites","titleFontSize":23,"titleY":224,"titlePadding":-2.3,"labelFontSize":19,"labelPadding":30,"values":[0.8,0.9,1,2,3,4,5,6,7,8,9,10,20,30,40,50,60,70,80,90,100,200,300,400,500,600,700,800,900,1000],"labelExpr":"datum.value==1000?'1000':datum.value==100?'100':datum.value==10?'10':datum.value==1?'1':''","tickSize":{"condition":{"test":"datum.value==1||datum.value==10||datum.value==100||datum.value==1000","value":-21},"value":-11}}},
"detail":{"field":"s"},
"order":{"value":null}},
"layer":[
{"transform":[{"filter":"substring(datum.s,0,1)=='N'"}],"layer":[{"mark":{"type":"line","color":"#8c8c8c","strokeWidth":1.4}},{"mark":{"type":"point","shape":"square","filled":true,"fill":"white","stroke":"#8c8c8c","strokeWidth":1.5,"size":80,"opacity":1}}]},
{"transform":[{"filter":"substring(datum.s,0,1)=='Q'"}],"layer":[{"mark":{"type":"line","color":"#8c8c8c","strokeWidth":1.4}},{"mark":{"type":"point","shape":"circle","filled":true,"fill":"white","stroke":"#8c8c8c","strokeWidth":1.5,"size":80,"opacity":1}}]},
{"transform":[{"filter":"substring(datum.s,0,1)=='G'"}],"layer":[{"mark":{"type":"line","color":"#1faa4f","strokeWidth":1.4}},{"mark":{"type":"point","shape":"triangle-up","filled":true,"fill":"white","stroke":"#1faa4f","strokeWidth":1.5,"size":120,"opacity":1}}]},
{"transform":[{"filter":"substring(datum.s,0,1)=='F'"}],"layer":[{"mark":{"type":"line","color":"#1faa4f","strokeWidth":2}},{"mark":{"type":"point","shape":"triangle-up","filled":true,"fill":"#6cc18a","stroke":"#1faa4f","strokeWidth":1.5,"size":150,"opacity":1}}]},
{"transform":[{"filter":"substring(datum.s,0,1)=='R'"}],"layer":[{"mark":{"type":"line","color":"#ed1c24","strokeWidth":1.6}},{"mark":{"type":"point","shape":"circle","filled":true,"fill":"white","stroke":"#ed1c24","strokeWidth":1.6,"size":130,"opacity":1}}]},
{"transform":[{"filter":"substring(datum.s,0,1)=='D'"}],"layer":[{"mark":{"type":"line","color":"#ed1c24","strokeWidth":2.5}},{"mark":{"type":"point","shape":"circle","filled":true,"fill":"#ed1c24","stroke":"#ed1c24","strokeWidth":1.5,"size":150,"opacity":1}}]},
{"transform":[{"filter":"substring(datum.s,0,1)=='B'"}],"layer":[{"mark":{"type":"line","color":"#2e3192","strokeWidth":1.6}},{"mark":{"type":"point","shape":"circle","filled":true,"fill":"white","stroke":"#2e3192","strokeWidth":1.6,"size":140,"opacity":1}}]},
{"transform":[{"filter":"substring(datum.s,0,1)=='U'"}],"layer":[{"mark":{"type":"line","color":"#2e3192","strokeWidth":1.6}},{"mark":{"type":"point","shape":"circle","filled":true,"fill":"#5bc5ea","stroke":"#2e3192","strokeWidth":1.5,"size":120,"opacity":1}}]}
]},
{"data":{"values":[{"g":"DM"},{"g":"NMQ I"}]},
"mark":{"type":"point","opacity":0,"filled":true},
"encoding":{
"shape":{"field":"g","type":"nominal","scale":{"domain":["DM","NMQ I"],"range":["M-5,0L-0.55,0M0.55,0L5,0M0.55,0A0.55,0.55,0,1,1,-0.55,0A0.55,0.55,0,1,1,0.55,0Z","M-5,0L-0.38,0M0.38,0L5,0M0,-0.65L0.7,0.55L-0.7,0.55Z"]},"legend":{"title":"\u200b\u00a0\u00a0\u00a0\u00a0\u00a0\u00a0\u00a0\u00a0\u00a0\u00a0\u00a0\u00a0\u00a0\u00a0Upper crust","orient":"none","legendX":116,"legendY":13,"direction":"vertical","symbolSize":100,"symbolStrokeWidth":1.2,"symbolOpacity":1,"symbolOffset":19,"labelOffset":18.3,"labelFontSize":12,"titleFontSize":13,"titleFontWeight":"normal","titlePadding":5.5,"rowPadding":0,"clipHeight":13.4,"padding":0,"labelLimit":0,"titleLimit":0}},
"fill":{"field":"g","type":"nominal","scale":{"domain":["DM","NMQ I"],"range":["#ed1c24","#6cc18a"]},"legend":{"title":"\u200b\u00a0\u00a0\u00a0\u00a0\u00a0\u00a0\u00a0\u00a0\u00a0\u00a0\u00a0\u00a0\u00a0\u00a0Upper crust","orient":"none","legendX":116,"legendY":13,"direction":"vertical","symbolSize":100,"symbolStrokeWidth":1.2,"symbolOpacity":1,"symbolOffset":19,"labelOffset":18.3,"labelFontSize":12,"titleFontSize":13,"titleFontWeight":"normal","titlePadding":5.5,"rowPadding":0,"clipHeight":13.4,"padding":0,"labelLimit":0,"titleLimit":0}},
"stroke":{"field":"g","type":"nominal","scale":{"domain":["DM","NMQ I"],"range":["#ed1c24","#1faa4f"]},"legend":{"title":"\u200b\u00a0\u00a0\u00a0\u00a0\u00a0\u00a0\u00a0\u00a0\u00a0\u00a0\u00a0\u00a0\u00a0\u00a0Upper crust","orient":"none","legendX":116,"legendY":13,"direction":"vertical","symbolSize":100,"symbolStrokeWidth":1.2,"symbolOpacity":1,"symbolOffset":19,"labelOffset":18.3,"labelFontSize":12,"titleFontSize":13,"titleFontWeight":"normal","titlePadding":5.5,"rowPadding":0,"clipHeight":13.4,"padding":0,"labelLimit":0,"titleLimit":0}}
}},
{"data":{"values":[{"g":"NMQ III (this study)"},{"g":"NMQ II  (this study)"}]},
"mark":{"type":"point","opacity":0,"filled":true},
"encoding":{
"shape":{"field":"g","type":"nominal","scale":{"domain":["NMQ III (this study)","NMQ II  (this study)"],"range":["M-5,0L-0.55,0M0.55,0L5,0M0.55,0A0.55,0.55,0,1,1,-0.55,0A0.55,0.55,0,1,1,0.55,0Z","M-5,0L-0.38,0M0.38,0L5,0M0,-0.65L0.7,0.55L-0.7,0.55Z"]},"legend":{"title":"\u200b\u00a0\u00a0\u00a0\u00a0\u00a0\u00a0\u00a0\u00a0\u00a0\u00a0\u00a0\u00a0\u00a0\u00a0\u00a0Bulk crust","orient":"none","legendX":240,"legendY":13,"direction":"vertical","symbolSize":100,"symbolStrokeWidth":1.2,"symbolOpacity":1,"symbolOffset":19,"labelOffset":18.3,"labelFontSize":12,"titleFontSize":13,"titleFontWeight":"normal","titlePadding":5.5,"rowPadding":0,"clipHeight":13.4,"padding":0,"labelLimit":0,"titleLimit":0}},
"fill":{"field":"g","type":"nominal","scale":{"domain":["NMQ III (this study)","NMQ II  (this study)"],"range":["white","white"]},"legend":{"title":"\u200b\u00a0\u00a0\u00a0\u00a0\u00a0\u00a0\u00a0\u00a0\u00a0\u00a0\u00a0\u00a0\u00a0\u00a0\u00a0Bulk crust","orient":"none","legendX":240,"legendY":13,"direction":"vertical","symbolSize":100,"symbolStrokeWidth":1.2,"symbolOpacity":1,"symbolOffset":19,"labelOffset":18.3,"labelFontSize":12,"titleFontSize":13,"titleFontWeight":"normal","titlePadding":5.5,"rowPadding":0,"clipHeight":13.4,"padding":0,"labelLimit":0,"titleLimit":0}},
"stroke":{"field":"g","type":"nominal","scale":{"domain":["NMQ III (this study)","NMQ II  (this study)"],"range":["#ed1c24","#1faa4f"]},"legend":{"title":"\u200b\u00a0\u00a0\u00a0\u00a0\u00a0\u00a0\u00a0\u00a0\u00a0\u00a0\u00a0\u00a0\u00a0\u00a0\u00a0Bulk crust","orient":"none","legendX":240,"legendY":13,"direction":"vertical","symbolSize":100,"symbolStrokeWidth":1.2,"symbolOpacity":1,"symbolOffset":19,"labelOffset":18.3,"labelFontSize":12,"titleFontSize":13,"titleFontWeight":"normal","titlePadding":5.5,"rowPadding":0,"clipHeight":13.4,"padding":0,"labelLimit":0,"titleLimit":0}}
}},
{"data":{"values":[{"g":"Later stage of Late Cretaceous granites in NLS(literature data)"},{"g":"Later stage of Late Cretaceous granites in SQT(literature data)"}]},
"mark":{"type":"point","opacity":0,"filled":true},
"encoding":{
"shape":{"field":"g","type":"nominal","scale":{"domain":["Later stage of Late Cretaceous granites in NLS(literature data)","Later stage of Late Cretaceous granites in SQT(literature data)"],"range":["M-5,0L-0.53,0M0.53,0L5,0M-0.53,-0.53L0.53,-0.53L0.53,0.53L-0.53,0.53Z","M-5,0L-0.53,0M0.53,0L5,0M0.53,0A0.53,0.53,0,1,1,-0.53,0A0.53,0.53,0,1,1,0.53,0Z"]},"legend":{"title":null,"orient":"none","legendX":116,"legendY":58.5,"direction":"vertical","symbolSize":100,"symbolStrokeWidth":1.2,"symbolOpacity":1,"symbolOffset":19,"labelOffset":18.3,"labelFontSize":14,"rowPadding":0,"clipHeight":14.4,"padding":0,"labelLimit":0}},
"fill":{"field":"g","type":"nominal","scale":{"domain":["Later stage of Late Cretaceous granites in NLS(literature data)","Later stage of Late Cretaceous granites in SQT(literature data)"],"range":["white","white"]},"legend":{"title":null,"orient":"none","legendX":116,"legendY":58.5,"direction":"vertical","symbolSize":100,"symbolStrokeWidth":1.2,"symbolOpacity":1,"symbolOffset":19,"labelOffset":18.3,"labelFontSize":14,"rowPadding":0,"clipHeight":14.4,"padding":0,"labelLimit":0}},
"stroke":{"field":"g","type":"nominal","scale":{"domain":["Later stage of Late Cretaceous granites in NLS(literature data)","Later stage of Late Cretaceous granites in SQT(literature data)"],"range":["#8c8c8c","#8c8c8c"]},"legend":{"title":null,"orient":"none","legendX":116,"legendY":58.5,"direction":"vertical","symbolSize":100,"symbolStrokeWidth":1.2,"symbolOpacity":1,"symbolOffset":19,"labelOffset":18.3,"labelFontSize":14,"rowPadding":0,"clipHeight":14.4,"padding":0,"labelLimit":0}}
}}
]
},
{
"width":587,"height":415,
"data":{"name":"b"},
"title":{"text":"(b)","anchor":"end","frame":"group","fontSize":22,"baseline":"top","offset":0,"dx":-2,"dy":32},
"encoding":{
"x":{"field":"e","type":"nominal","scale":{"domain":["Rb","Ba","Th","U","Nb","Ta","K","La","Ce","Pb","Pr","Sr","P","Nd","Zr","Sm","Eu","Ti","Dy","Y","Yb","Lu"],"padding":0.876,"align":0.586},"axis":{"title":null,"labelAngle":0,"labelFontSize":21,"labelPadding":15,"labelLineHeight":16.5,"tickSize":-10,"labelOverlap":false,"labelExpr":"indexof(['Ba','U','Ta','La','Pb','Sr','Nd','Sm','Ti','Y','Lu'], datum.value) >= 0 ? ['', datum.value] : datum.value"}},
"y":{"field":"v","type":"quantitative","scale":{"type":"log","domain":[0.1,5000],"nice":false},"axis":{"title":"Rock/Primitive Mantle","titleFontSize":23,"titleY":222,"titlePadding":-2.3,"labelFontSize":19,"labelPadding":26,"values":[0.1,0.2,0.3,0.4,0.5,0.6,0.7,0.8,0.9,1,2,3,4,5,6,7,8,9,10,20,30,40,50,60,70,80,90,100,200,300,400,500,600,700,800,900,1000,2000,3000,4000],"labelExpr":"datum.value==1000?'1000':datum.value==100?'100':datum.value==10?'10':datum.value==1?'1':datum.value==0.1?'.1':''","tickSize":{"condition":{"test":"datum.value==0.1||datum.value==1||datum.value==10||datum.value==100||datum.value==1000","value":-21},"value":-11}}},
"detail":{"field":"s"},
"order":{"value":null}},
"layer":[
{"transform":[{"filter":"substring(datum.s,0,1)=='N'"}],"layer":[{"mark":{"type":"line","color":"#8c8c8c","strokeWidth":1.4}},{"mark":{"type":"point","shape":"square","filled":true,"fill":"white","stroke":"#8c8c8c","strokeWidth":1.5,"size":80,"opacity":1}}]},
{"transform":[{"filter":"substring(datum.s,0,1)=='Q'"}],"layer":[{"mark":{"type":"line","color":"#8c8c8c","strokeWidth":1.4}},{"mark":{"type":"point","shape":"circle","filled":true,"fill":"white","stroke":"#8c8c8c","strokeWidth":1.5,"size":80,"opacity":1}}]},
{"transform":[{"filter":"substring(datum.s,0,1)=='G'"}],"layer":[{"mark":{"type":"line","color":"#1faa4f","strokeWidth":1.4}},{"mark":{"type":"point","shape":"triangle-up","filled":true,"fill":"white","stroke":"#1faa4f","strokeWidth":1.5,"size":110,"opacity":1}}]},
{"transform":[{"filter":"substring(datum.s,0,1)=='F'"}],"layer":[{"mark":{"type":"line","color":"#1faa4f","strokeWidth":2.2}},{"mark":{"type":"point","shape":"triangle-up","filled":true,"fill":"#6cc18a","stroke":"#1faa4f","strokeWidth":1.5,"size":140,"opacity":1}}]},
{"transform":[{"filter":"substring(datum.s,0,1)=='R'"}],"layer":[{"mark":{"type":"line","color":"#ed1c24","strokeWidth":1.6}},{"mark":{"type":"point","shape":"circle","filled":true,"fill":"white","stroke":"#ed1c24","strokeWidth":1.6,"size":120,"opacity":1}}]},
{"transform":[{"filter":"substring(datum.s,0,1)=='D'"}],"layer":[{"mark":{"type":"line","color":"#ed1c24","strokeWidth":2.5}},{"mark":{"type":"point","shape":"circle","filled":true,"fill":"#ed1c24","stroke":"#ed1c24","strokeWidth":1.5,"size":140,"opacity":1}}]},
{"transform":[{"filter":"substring(datum.s,0,1)=='B'"}],"layer":[{"mark":{"type":"line","color":"#2e3192","strokeWidth":1.6}},{"mark":{"type":"point","shape":"circle","filled":true,"fill":"white","stroke":"#2e3192","strokeWidth":1.6,"size":120,"opacity":1}}]},
{"transform":[{"filter":"substring(datum.s,0,1)=='U'"}],"layer":[{"mark":{"type":"line","color":"#2e3192","strokeWidth":1.6}},{"mark":{"type":"point","shape":"circle","filled":true,"fill":"#5bc5ea","stroke":"#2e3192","strokeWidth":1.5,"size":110,"opacity":1}}]}
]
}
]
}
